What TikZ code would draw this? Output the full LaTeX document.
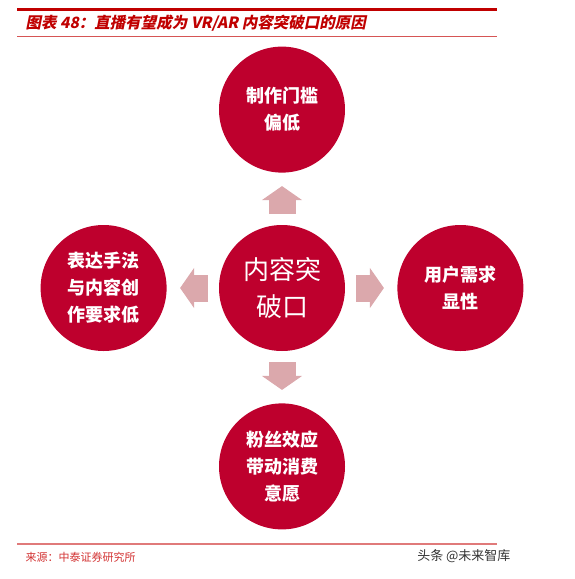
\documentclass[tikz,border=0pt]{standalone}
\usepackage{fontspec}
\usepackage{tikz}
\usetikzlibrary{positioning, arrows.meta}

\newfontfamily\cjk{Noto Sans CJK SC}
\newfontfamily\cjkslant[FakeSlant=0.2]{Noto Sans CJK SC}

\definecolor{circred}{RGB}{190,0,45}
\definecolor{arrowpink}{RGB}{219,168,172}
\definecolor{titlered}{RGB}{192,0,0}
\definecolor{rulered}{RGB}{224,122,122}
\definecolor{srcred}{RGB}{210,50,50}

\tikzset{
  bubble/.style={circle, fill=circred, text=white, minimum size=126pt, inner sep=0pt,
    align=center, font=\cjk\bfseries\fontsize{18}{27}\selectfont},
  fat/.style={arrowpink, line width=27pt,
    -{Triangle[length=14pt,width=40pt,line width=1pt]},
    shorten <=74pt, shorten >=76.5pt},
}

\begin{document}
\begin{tikzpicture}[x=1pt,y=-1pt,node distance=52pt]
    \useasboundingbox (0,0) rectangle (575,579);
    % header
    \draw[titlered, line width=2.5pt] (17,9.5) -- (497,9.5);
    \draw[rulered!70!titlered, line width=0.8pt] (17,36) -- (497,36);
    \node[anchor=west, text=titlered, font=\cjkslant\bfseries\fontsize{15.5}{18}\selectfont]
        (title) at (22,23) {图表 48：直播有望成为 VR/AR 内容突破口的原因};

    % circles
    \node[bubble, font=\cjk\fontsize{26}{37}\selectfont] (core) at (282,288) {内容突\\破口};
    \node[bubble] (top) [above=of core] {制作门槛\\偏低};
    \node[bubble] (right) [right=of core] {用户需求\\显性};
    \node[bubble] (bottom) [below=of core] {粉丝效应\\带动消费\\意愿};
    \node[bubble] (left) [left=of core] {表达手法\\与内容创\\作要求低};

    % block arrows
    \draw[fat] (core.center) -- (top.center);
    \draw[fat] (core.center) -- (right.center);
    \draw[fat] (core.center) -- (bottom.center);
    \draw[fat] (core.center) -- (left.center);

    % footer
    \draw[rulered, line width=1.8pt] (17,544) -- (497,544);
    \node[anchor=west, text=srcred, font=\cjk\fontsize{11}{13}\selectfont]
        (source) at (22,557) {来源：中泰证券研究所};
    \node[anchor=east, text=black!80, font=\cjk\fontsize{13}{15}\selectfont]
        (mark) at (514,556) {头条 @未来智库};
\end{tikzpicture}
\end{document}
